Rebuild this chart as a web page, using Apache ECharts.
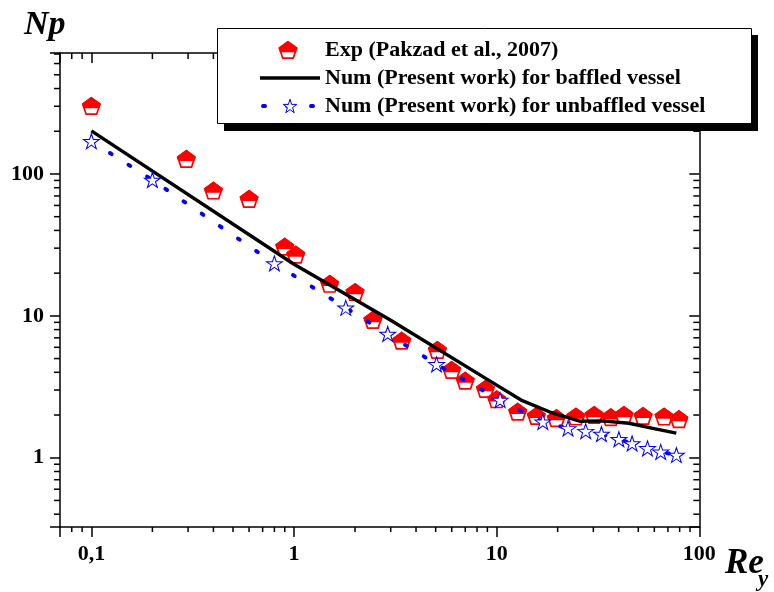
<!DOCTYPE html>
<html><head><meta charset="utf-8">
<script src="https://cdn.jsdelivr.net/npm/echarts@6/dist/echarts.min.js"></script>
<style>html,body{margin:0;padding:0;background:#fff}#c{width:774px;height:592px}</style>
</head><body><div id="c"></div>
<script>
// ---- data ----
const seriesNames = ['Exp (Pakzad et al., 2007)', 'Num (Present work) for baffled vessel', 'Num (Present work) for unbaffled vessel'];
const expRe = [0.1, 0.294, 0.4, 0.6, 0.9, 1.02, 1.5, 2.0, 2.45, 3.4, 5.1, 6.0, 7.0, 8.8, 10, 12.7, 15.7, 19.7, 24.6, 30.3, 36.6, 42.5, 52.8, 67, 79.3];
const expNp = [301, 127.6, 76.3, 66.7, 30.7, 27.0, 16.8, 14.7, 9.35, 6.68, 5.74, 4.15, 3.49, 3.05, 2.58, 2.11, 1.97, 1.90, 1.95, 2.0, 1.93, 2.0, 1.97, 1.95, 1.87];
const bafRe = [0.1, 1, 3, 10, 13.2, 18.3, 25.7, 33, 45, 59, 77];
const bafNp = [201, 23.1, 9.3, 3.25, 2.55, 2.1, 1.81, 1.82, 1.75, 1.61, 1.49];
const unbRe = [0.1, 0.2, 0.8, 1.8, 2.9, 5.05, 10.4, 16.9, 22.5, 27.5, 32.9, 40.1, 46.6, 55.5, 64.5, 77.1];
const unbNp = [170, 90.7, 23.4, 11.4, 7.45, 4.55, 2.55, 1.79, 1.61, 1.54, 1.47, 1.35, 1.26, 1.165, 1.10, 1.045];
const xTickValues = [0.1, 1, 10, 100];
const xTickLabels = ['0,1', '1', '10', '100'];
const yTickValues = [1, 10, 100];
const yTickLabels = ['1', '10', '100'];
const xMinorTicks = [0.08, 0.09, 0.2, 0.3, 0.4, 0.5, 0.6, 0.7, 0.8, 0.9, 2, 3, 4, 5, 6, 7, 8, 9, 20, 30, 40, 50, 60, 70, 80, 90];
const yMinorTicks = [0.4, 0.5, 0.6, 0.7, 0.8, 0.9, 2, 3, 4, 5, 6, 7, 8, 9, 20, 30, 40, 50, 60, 70, 80, 90, 200, 300, 400, 500, 600, 700];

// ---- helpers ----
const FONT = '"Liberation Serif","Times New Roman",serif';
const X_MIN = 0.07, X_MAX = 100, Y_MIN = 0.325, Y_MAX = 712;

function fmt(values, labels) {
  return function (v) {
    const i = values.findIndex(t => Math.abs(Math.log10(t) - Math.log10(v)) < 1e-6);
    return i >= 0 ? labels[i] : '';
  };
}
function starPath() {
  let d = '';
  for (let i = 0; i < 10; i++) {
    const r = i % 2 ? 0.382 : 1;
    const a = -Math.PI / 2 + i * Math.PI / 5;
    d += (i ? 'L' : 'M') + (r * Math.cos(a)).toFixed(4) + ',' + (r * Math.sin(a)).toFixed(4) + ' ';
  }
  return 'path://' + d + 'Z';
}
function clipTop(pts, yc) {
  const out = [];
  for (let i = 0; i < pts.length; i++) {
    const a = pts[i], b = pts[(i + 1) % pts.length];
    const ain = a[1] <= yc, bin = b[1] <= yc;
    if (ain) out.push(a);
    if (ain !== bin) {
      const t = (yc - a[1]) / (b[1] - a[1]);
      out.push([a[0] + t * (b[0] - a[0]), yc]);
    }
  }
  return out;
}
function pentagonShapes(cx, cy, R, z) {
  const H = 1.809 * R, top = cy - H / 2, ccy = top + R;
  const pts = [];
  for (let k = 0; k < 5; k++) {
    const a = -Math.PI / 2 + k * 2 * Math.PI / 5;
    pts.push([cx + R * Math.cos(a), ccy + R * Math.sin(a)]);
  }
  const topPts = clipTop(pts, top + 0.58 * H);
  const s1 = {type: 'polygon', shape: {points: pts}, style: {fill: '#fff', stroke: '#ff0000', lineWidth: 1.7}};
  const s2 = {type: 'polygon', shape: {points: topPts}, style: {fill: '#ff0000', stroke: '#ff0000', lineWidth: 1.7}};
  if (z != null) { s1.z = z; s2.z = z + 1; }
  return [s1, s2];
}

const chart = echarts.init(document.getElementById('c'), null, {renderer: 'canvas'});
const axisLineStyle = {color: '#000', width: 1.5};
const labelStyle = {color: '#000', fontFamily: FONT, fontWeight: 'bold', fontSize: 22};

const option = {
  animation: false,
  backgroundColor: '#fff',
  grid: {left: 60, right: 74.7, top: 53, bottom: 65, containLabel: false, outerBoundsMode: 'none'},
  xAxis: [
    {type: 'log', logBase: 10, min: X_MIN, max: X_MAX, position: 'bottom',
     axisLine: {show: true, onZero: false, lineStyle: axisLineStyle},
     axisTick: {show: true, inside: false, length: 10, lineStyle: axisLineStyle},
     axisLabel: Object.assign({show: true, margin: 16, formatter: fmt(xTickValues, xTickLabels)}, labelStyle),
     splitLine: {show: false}, minorTick: {show: false}},
    {type: 'log', logBase: 10, min: X_MIN, max: X_MAX, position: 'top',
     axisLine: {show: true, onZero: false, lineStyle: axisLineStyle},
     axisTick: {show: true, inside: true, length: 10, lineStyle: axisLineStyle},
     axisLabel: {show: false}, splitLine: {show: false}}
  ],
  yAxis: [
    {type: 'log', logBase: 10, min: Y_MIN, max: Y_MAX, position: 'left',
     axisLine: {show: true, onZero: false, lineStyle: axisLineStyle},
     axisTick: {show: true, inside: false, length: 10, lineStyle: axisLineStyle},
     axisLabel: Object.assign({show: true, margin: 16, formatter: fmt(yTickValues, yTickLabels)}, labelStyle),
     splitLine: {show: false}, minorTick: {show: false}},
    {type: 'log', logBase: 10, min: Y_MIN, max: Y_MAX, position: 'right',
     axisLine: {show: true, onZero: false, lineStyle: axisLineStyle},
     axisTick: {show: true, inside: true, length: 10, lineStyle: axisLineStyle},
     axisLabel: {show: false}, splitLine: {show: false}}
  ],
  legend: {
    show: true, orient: 'vertical', left: 258, top: 39, padding: 0, itemGap: 6,
    itemWidth: 60, itemHeight: 17, z: 200, selectedMode: false,
    textStyle: {fontFamily: FONT, fontWeight: 'bold', fontSize: 22, color: '#000', lineHeight: 22},
    data: [
      {name: seriesNames[0], icon: 'none'},
      {name: seriesNames[1], itemStyle: {opacity: 0}, lineStyle: {width: 3.4, color: '#000'}},
      {name: seriesNames[2], itemStyle: {color: '#fff', borderColor: '#0000ff', borderWidth: 1},
       lineStyle: {width: 4, color: '#0000ff', type: [2, 22], dashOffset: -3, cap: 'round'}}
    ]
  },
  graphic: [
    {type: 'rect', z: 100, shape: {x: 224, y: 35, width: 534, height: 96}, style: {fill: '#000'}},
    {type: 'rect', z: 101, shape: {x: 217.5, y: 28.5, width: 534, height: 95}, style: {fill: '#fff', stroke: '#000', lineWidth: 1}},
    {type: 'group', z: 210, children: pentagonShapes(288, 50, 9, 210)},
    {type: 'text', z: 100, x: 24, y: 25, style: {text: 'Np', font: 'italic bold 34px "Liberation Serif"', fill: '#000', align: 'left', verticalAlign: 'middle'}},
    {type: 'text', z: 100, x: 725, y: 564, style: {text: 'Re', font: 'italic bold 35px "Liberation Serif"', fill: '#000', align: 'left', verticalAlign: 'middle'}},
    {type: 'text', z: 100, x: 758, y: 580, style: {text: 'y', font: 'italic bold 23px "Liberation Serif"', fill: '#000', align: 'left', verticalAlign: 'middle'}}
  ],
  series: [
    {type: 'custom', name: 'xminor', coordinateSystem: 'cartesian2d', xAxisIndex: 0, yAxisIndex: 0, silent: true, z: 1,
     data: xMinorTicks.map(v => [v, 1]),
     renderItem: function (params, api) {
       const cs = params.coordSys;
       const px = api.coord([api.value(0), 1])[0];
       const b = cs.y + cs.height;
       return {type: 'group', children: [
         {type: 'line', shape: {x1: px, y1: b, x2: px, y2: b + 5}, style: {stroke: '#000', lineWidth: 1.5}},
         {type: 'line', shape: {x1: px, y1: cs.y, x2: px, y2: cs.y + 6}, style: {stroke: '#000', lineWidth: 1.5}}
       ]};
     }},
    {type: 'custom', name: 'yminor', coordinateSystem: 'cartesian2d', xAxisIndex: 0, yAxisIndex: 0, silent: true, z: 1,
     data: yMinorTicks.map(v => [1, v]),
     renderItem: function (params, api) {
       const cs = params.coordSys;
       const py = api.coord([1, api.value(1)])[1];
       const r = cs.x + cs.width;
       return {type: 'group', children: [
         {type: 'line', shape: {x1: cs.x - 6, y1: py, x2: cs.x, y2: py}, style: {stroke: '#000', lineWidth: 1.5}},
         {type: 'line', shape: {x1: r - 6, y1: py, x2: r, y2: py}, style: {stroke: '#000', lineWidth: 1.5}}
       ]};
     }},
    {type: 'custom', name: seriesNames[0], coordinateSystem: 'cartesian2d', silent: true, z: 2,
     data: expRe.map((x, i) => [x, expNp[i]]),
     renderItem: function (params, api) {
       const p = api.coord([api.value(0), api.value(1)]);
       return {type: 'group', children: pentagonShapes(p[0], p[1], 9)};
     }},
    {type: 'line', name: seriesNames[1], z: 3, silent: true,
     data: bafRe.map((x, i) => [x, bafNp[i]]),
     symbol: 'none', showSymbol: false,
     lineStyle: {color: '#000', width: 3.4}, itemStyle: {color: '#000'}},
    {type: 'line', name: seriesNames[2], z: 4, silent: true,
     data: unbRe.map((x, i) => [x, unbNp[i]]),
     symbol: starPath(), symbolSize: [16, 15], showSymbol: true,
     lineStyle: {color: '#0000ff', width: 4, type: [2, 20], cap: 'round'},
     itemStyle: {color: '#fff', borderColor: '#0000ff', borderWidth: 1}}
  ]
};
chart.setOption(option);
</script>
</body></html>
